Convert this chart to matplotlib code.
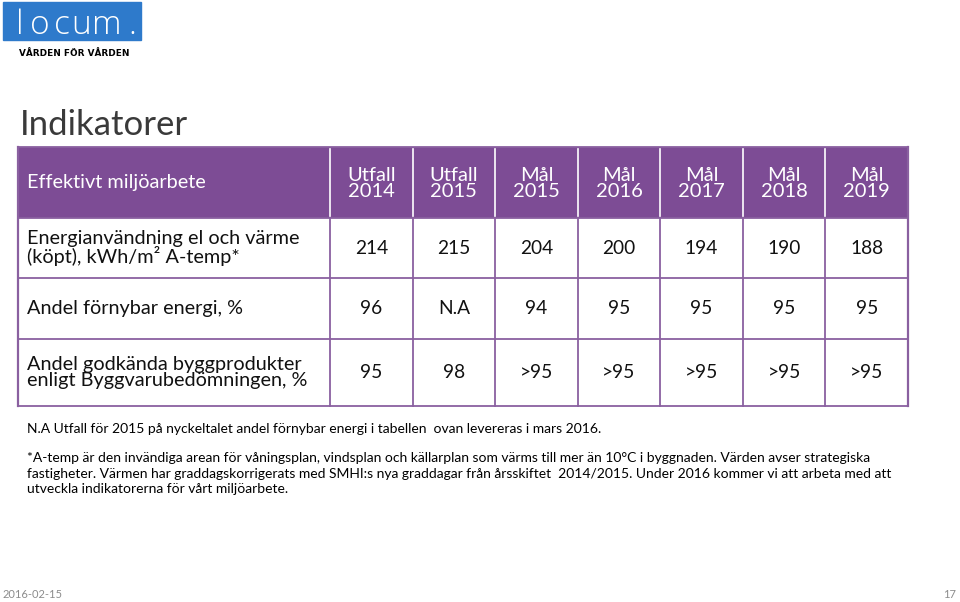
import matplotlib.pyplot as plt
from matplotlib.patches import Rectangle

plt.rcParams["font.family"] = ["Lato", "DejaVu Sans"]

# data
header_label = "Effektivt miljöarbete"
columns = ["Utfall\n2014", "Utfall\n2015", "Mål\n2015", "Mål\n2016",
           "Mål\n2017", "Mål\n2018", "Mål\n2019"]
row_labels = ["Energianvändning el och värme\n(köpt), kWh/m² A-temp*",
              "Andel förnybar energi, %",
              "Andel godkända byggprodukter\nenligt Byggvarubedömningen, %"]
energy = ["214", "215", "204", "200", "194", "190", "188"]
renewable = ["96", "N.A", "94", "95", "95", "95", "95"]
products = ["95", "98", ">95", ">95", ">95", ">95", ">95"]
values = [energy, renewable, products]

note1 = "N.A Utfall för 2015 på nyckeltalet andel förnybar energi i tabellen  ovan levereras i mars 2016."
note2 = ("*A-temp är den invändiga arean för våningsplan, vindsplan och källarplan som värms till mer än 10°C i byggnaden. Värden avser strategiska\n"
         "fastigheter. Värmen har graddagskorrigerats med SMHI:s nya graddagar från årsskiftet  2014/2015. Under 2016 kommer vi att arbeta med att\n"
         "utveckla indikatorerna för vårt miljöarbete.")

PURPLE = "#7D4C95"
LINE = "#8A60A0"

fig = plt.figure(figsize=(9.6, 6.02), dpi=100)
ax = fig.add_axes([0, 0, 1, 1])
ax.set_xlim(0, 960)
ax.set_ylim(602, 0)
ax.axis("off")

# logo
ax.add_patch(Rectangle((3, 2), 138, 38, color="#2E7ACB"))
for ch, x in zip("locum.", [20, 40, 62, 81, 107, 132]):
    ax.text(x, 34, ch, color="white", fontsize=24, ha="center", va="baseline",
            family="Open Sans", fontweight="light")
ax.text(19, 53, "VÅRDEN FÖR VÅRDEN", fontsize=6.4, fontweight="black", va="center",
        family="DejaVu Sans")

ax.text(20, 125, "Indikatorer", fontsize=25, color="#3a3a3a", va="center")

# table geometry
x_left, x_first, x_right = 18, 330, 908
col_w = (x_right - x_first) / len(columns)
row_edges = [147, 218, 278, 339, 406]

ax.add_patch(Rectangle((x_left, row_edges[0]), x_right - x_left,
                       row_edges[1] - row_edges[0], color=PURPLE, lw=0))
ax.text(27, (row_edges[0] + row_edges[1]) / 2, header_label, color="white",
        fontsize=14.3, va="center")
for j, col in enumerate(columns):
    cx = x_first + col_w * (j + 0.5)
    ax.text(cx, (row_edges[0] + row_edges[1]) / 2 + 1, col, color="white",
            fontsize=14.5, ha="center", va="center", linespacing=0.95)
    ax.plot([x_first + col_w * j] * 2, [row_edges[0] + 2, row_edges[1] - 2],
            color="white", lw=1.2)

for i, (label, vals) in enumerate(zip(row_labels, values)):
    y0, y1 = row_edges[i + 1], row_edges[i + 2]
    cy = (y0 + y1) / 2
    ax.text(27, cy, label, fontsize=14.3, va="center", linespacing=0.92,
            color="#111111")
    for j, v in enumerate(vals):
        cx = x_first + col_w * (j + 0.5)
        ax.text(cx, cy, v, fontsize=13.8, ha="center", va="center",
                color="#111111")

# grid lines
for y in row_edges[1:]:
    ax.plot([x_left, x_right], [y, y], color=LINE, lw=1.3)
for j in range(len(columns) + 1):
    x = x_first + col_w * j
    ax.plot([x, x], [row_edges[1], row_edges[-1]], color=LINE, lw=1.3)
ax.plot([x_left, x_left], [row_edges[0], row_edges[-1]], color=LINE, lw=1.6)
ax.plot([x_right, x_right], [row_edges[0], row_edges[-1]], color=LINE, lw=1.6)
ax.plot([x_left, x_right], [row_edges[0], row_edges[0]], color=LINE, lw=1.3)

# notes
ax.text(27, 429, note1, fontsize=10, va="center")
ax.text(27, 452, note2, fontsize=10, va="top", linespacing=1.36)

ax.text(3, 594, "2016-02-15", fontsize=8, color="#8c8c8c", va="center")
ax.text(950, 594, "17", fontsize=8, color="#8c8c8c", va="center", ha="center")

fig.savefig("out.png", dpi=100)
